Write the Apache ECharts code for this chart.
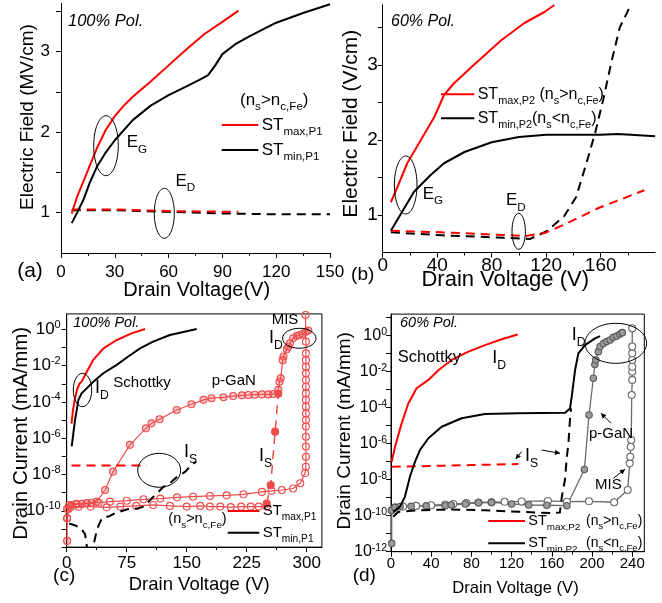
<!DOCTYPE html>
<html><head><meta charset="utf-8">
<script src="https://cdn.jsdelivr.net/npm/echarts@6/dist/echarts.min.js"></script>
<style>html,body{margin:0;padding:0;background:#fff}#c{width:662px;height:603px}</style>
</head><body><div id="c"></div>
<script>
// ---------- Panel (a): 100% Pol., electric field ----------
const aXTicks = [0, 30, 60, 90, 120, 150];
const aYTicks = [1, 2, 3];
const aMaxX = [6, 9, 12.5, 16, 20, 25, 30, 35, 40, 50, 60, 70, 80, 90, 99];
const aMaxY = [0.99, 1.2, 1.39, 1.58, 1.8, 2.03, 2.2, 2.33, 2.44, 2.63, 2.83, 3.03, 3.22, 3.37, 3.51];
const aMinX = [6, 9, 12.5, 16, 20, 25, 30, 40, 50, 60, 70, 78, 82, 86, 90, 97, 105, 120, 135, 150];
const aMinY = [0.87, 1.0, 1.16, 1.37, 1.57, 1.75, 1.9, 2.15, 2.33, 2.46, 2.57, 2.66, 2.71, 2.83, 2.97, 3.09, 3.19, 3.36, 3.48, 3.59];
const aMaxEdX = [6, 30, 60, 99];
const aMaxEdY = [1.04, 1.04, 1.02, 1.01];
const aMinEdX = [6, 30, 60, 90, 120, 150];
const aMinEdY = [1.03, 1.03, 1.01, 0.99, 0.98, 0.98];

// ---------- Panel (b): 60% Pol., electric field ----------
const bXTicks = [0, 40, 80, 120, 160];
const bYTicks = [1, 2, 3];
const bMaxX = [6, 11, 18, 28, 38, 45, 52, 65, 87, 104, 119, 126];
const bMaxY = [1.17, 1.38, 1.69, 2.0, 2.31, 2.6, 2.75, 2.97, 3.33, 3.56, 3.71, 3.8];
const bMinX = [6, 13.5, 23, 35, 45, 60, 80, 100, 120, 140, 160, 172, 182, 200];
const bMinY = [0.79, 1.02, 1.31, 1.53, 1.69, 1.84, 1.97, 2.04, 2.07, 2.07, 2.07, 2.08, 2.07, 2.05];
const bMaxEdX = [6, 43, 80, 105, 119, 133, 158, 192];
const bMaxEdY = [0.79, 0.77, 0.74, 0.72, 0.76, 0.87, 1.09, 1.33];
const bMinEdX = [6, 43, 84, 108, 120, 133, 142, 150, 156, 162, 168, 174, 181];
const bMinEdY = [0.77, 0.73, 0.70, 0.68, 0.78, 0.98, 1.24, 1.72, 2.1, 2.55, 3.05, 3.5, 3.76];

// ---------- Panel (c): 100% Pol., drain current (mA/mm) ----------
const cXTicks = [0, 75, 150, 225, 300];
const cYExpLabels = [-10, -8, -6, -4, -2, 0];
const cMaxX = [6, 8, 10.5, 13, 16, 19, 25, 33, 46, 62, 81, 98];
const cMax = [6.3e-6, 4.0e-5, 1.6e-4, 5.0e-4, 1.0e-3, 1.4e-3, 4.5e-3, 0.02, 0.089, 0.25, 0.6, 1.05];
const cMinX = [6.25, 10.4, 14.6, 18.75, 25, 33.3, 45.8, 62.5, 77, 91.7, 108, 129, 162.5];
const cMin = [3.5e-7, 1e-5, 1.3e-4, 3e-4, 5.6e-4, 1.3e-3, 3.8e-3, 0.011, 0.032, 0.089, 0.21, 0.49, 1.05];
const cMaxSX = [6, 100];
const cMaxS = [3.1e-8, 3.1e-8];
const cMinSX = [3, 10, 18, 23, 27, 29, 33, 38, 44, 54, 62, 77, 90, 96, 121, 129, 138, 148, 156, 162];
const cMinS = [2.0e-11, 1.6e-11, 1.1e-11, 5.0e-12, 3.2e-13, 1e-13, 1e-12, 1e-11, 3.9e-11, 5.2e-11, 7.9e-11, 1.26e-10, 1.4e-10, 1.7e-10, 2.1e-9, 3.3e-9, 7.6e-9, 1.4e-8, 3.4e-8, 5.1e-8];
const pganCX = [0.5, 0.5, 2, 6, 12.5, 19, 25, 31, 37.5, 48, 58, 79, 99, 106, 116, 137.5, 156, 171, 181, 196, 208, 219, 227, 235, 244, 252, 258, 264.5, 266, 267.5, 270, 271, 275, 277, 279, 283, 287.5, 291, 295, 299, 302];
const pganC = [2.2e-12, 3.9e-11, 1.2e-10, 2.1e-10, 2.3e-10, 2.4e-10, 2.6e-10, 2.8e-10, 3.2e-10, 1.4e-9, 1.45e-8, 4.3e-7, 3.5e-6, 6.6e-6, 1.1e-5, 3.6e-5, 7.4e-5, 1.3e-4, 1.6e-4, 1.8e-4, 2.1e-4, 2.3e-4, 2.4e-4, 2.5e-4, 2.6e-4, 2.6e-4, 2.75e-4, 4.6e-4, 1.3e-3, 2.0e-3, 0.02, 0.032, 0.079, 0.11, 0.17, 0.32, 0.43, 0.49, 0.55, 0.74, 0.85];
const misCX = [0.5, 3, 12, 25, 40, 54, 75, 96, 117, 138, 158, 179, 200, 221, 244, 256, 269, 283, 292, 298, 299, 299, 299, 299, 299, 299, 299, 299, 299, 299, 299, 299, 299, 299, 299, 299, 299, 298.5];
const misC = [3.9e-11, 2.0e-10, 2.4e-10, 2.6e-10, 2.8e-10, 3.2e-10, 3.6e-10, 4.3e-10, 4.7e-10, 5.5e-10, 6.0e-10, 6.6e-10, 7.1e-10, 8.1e-10, 1.1e-9, 1.26e-9, 1.4e-9, 1.7e-9, 3.3e-9, 1.2e-8, 2.7e-8, 9.5e-8, 3.5e-7, 1.2e-6, 4.4e-6, 1.0e-5, 2.3e-5, 5.5e-5, 1.3e-4, 3.0e-4, 6.9e-4, 1.6e-3, 3.8e-3, 8.7e-3, 0.02, 0.048, 0.21, 6.2];
const pganSX = [0.5, 5, 15, 30, 50, 67, 87, 108, 129, 150, 167, 179, 192, 205, 218, 230, 240, 250];
const pganS = [1.3e-10, 1.6e-10, 1.7e-10, 1.7e-10, 1.55e-10, 1.7e-10, 1.86e-10, 2.1e-10, 1.86e-10, 1.7e-10, 1.86e-10, 1.7e-10, 1.7e-10, 1.6e-10, 1.7e-10, 1.7e-10, 1.7e-10, 1.7e-10];
const pganSRX = [250, 255, 260.5, 264.5];
const pganSR = [2.5e-10, 2.6e-9, 2.3e-6, 2.8e-4];

// ---------- Panel (d): 60% Pol., drain current (mA/mm) ----------
const dXTicks = [0, 40, 80, 120, 160, 200, 240];
const dYExpLabels = [-12, -10, -8, -6, -4, -2, 0];
const dMaxX = [0.7, 4, 10.6, 17.2, 25.5, 37.2, 47.1, 60.4, 77, 93.5, 110, 126];
const dMax = [1e-7, 6.8e-7, 1.35e-5, 1.7e-4, 1.2e-3, 3.5e-3, 0.012, 0.045, 0.13, 0.3, 0.63, 1.17];
const dMaxSX = [0.7, 40, 80, 126.7];
const dMaxS = [5.2e-8, 5.8e-8, 6.5e-8, 7.4e-8];
const dMinX = [2.3, 9, 13.9, 18.9, 23.9, 28.9, 37.2, 50.4, 70.3, 93.5, 126.7, 173.2, 178.1, 179.8, 183.1, 186.4, 193, 203, 208];
const dMin = [1.66e-10, 3.2e-10, 1.15e-9, 1.5e-8, 1e-7, 4.5e-7, 2e-6, 8.7e-6, 2.6e-5, 4.5e-5, 4.9e-5, 5.2e-5, 9.1e-5, 4.1e-4, 0.012, 0.105, 0.3, 0.71, 0.95];
const dMinSX = [2.3, 7, 20, 40, 60, 93.5, 127, 160, 168, 170, 173, 175, 176.5, 178, 179.1];
const dMinS = [8.7e-11, 1.6e-10, 1.9e-10, 2.1e-10, 2.2e-10, 2.0e-10, 1.66e-10, 1.4e-10, 1.5e-10, 1.15e-9, 9.5e-9, 1.9e-7, 1.05e-6, 2.0e-5, 9.1e-5];
const dPganX = [0.7, 0.7, 4, 9, 20, 35, 54, 60, 74, 87, 100, 120, 137, 155, 175, 192.4, 197, 201.3, 202.8, 203.7, 206.3, 208, 211.3, 214.6, 218, 221.2, 224.6, 227.9, 230.2];
const dPgan = [2.9e-12, 2.0e-10, 2.9e-10, 3.2e-10, 3.3e-10, 3.5e-10, 3.6e-10, 3.9e-10, 4.5e-10, 5.2e-10, 5.5e-10, 4.5e-10, 3.9e-10, 3.8e-10, 3.6e-10, 3.7e-8, 3.9e-5, 4.3e-3, 0.025, 0.045, 0.13, 0.25, 0.37, 0.47, 0.58, 0.81, 0.95, 1.23, 1.48];
const dMisX = [0.7, 4, 12, 25, 40, 54, 62, 75, 87, 100, 113, 130, 156, 175, 197, 222, 235.5, 237.5, 238, 238.5, 239, 239.5, 240, 240, 240, 240, 240, 240, 240];
const dMis = [2.0e-10, 2.8e-10, 3.2e-10, 3.5e-10, 3.8e-10, 4.2e-10, 4.5e-10, 5.0e-10, 5.4e-10, 5.6e-10, 5.9e-10, 6.2e-10, 6.6e-10, 6.0e-10, 6.3e-10, 5.6e-10, 2.7e-9, 8.1e-8, 1.9e-7, 6.8e-7, 1.6e-6, 5.1e-4, 3.5e-3, 0.01, 0.019, 0.045, 0.105, 0.25, 2.6];

// ---------- build ----------
const FF = '"Liberation Sans", Arial, sans-serif';
const RED = '#ff0000', BLK = '#000000', PRED = '#ee4c4c', GRY = '#6a6a6a';
const pairs = (xs, ys) => xs.map((x, i) => [x, ys[i]]);
const lpairs = (xs, vs) => xs.map((x, i) => [x, Math.log10(vs[i])]);
const range = (a, b, s) => { const r = []; for (let v = a; v <= b + 1e-9; v += s) r.push(v); return r; };

function S(g, data, color, o) {
  o = o || {};
  return {
    type: 'line', xAxisIndex: g, yAxisIndex: g, data,
    symbol: o.symbol || 'none', symbolSize: o.size || 7, showSymbol: !!o.symbol,
    lineStyle: {color, width: o.w || 2, type: o.dash ? [9, 6] : 'solid', join: 'round'},
    itemStyle: {color: o.fill || color, borderColor: o.border || color, borderWidth: o.bw || 1.1},
    smooth: false,
    z: o.z || 3, silent: true, animation: false, clip: true
  };
}
function X(g, min, max, interval, ticks, fs, margin) {
  return {
    type: 'value', gridIndex: g, min, max, interval, position: 'bottom',
    axisLine: {show: true, onZero: false, lineStyle: {color: '#000', width: 1}},
    axisTick: {show: true, inside: false, length: 5, customValues: ticks, lineStyle: {color: '#000'}},
    minorTick: {show: true, splitNumber: 2, length: 3, lineStyle: {color: '#000'}},
    axisLabel: {customValues: ticks, fontSize: fs, color: '#000', margin, fontFamily: FF},
    splitLine: {show: false}, minorSplitLine: {show: false}
  };
}
function Y(g, min, max, labels, ticks, fs, margin, log, supFs) {
  const ax = {
    type: 'value', gridIndex: g, min, max, position: 'left',
    axisLine: {show: true, onZero: false, lineStyle: {color: '#000', width: 1}},
    axisTick: {show: true, inside: false, length: 5, customValues: ticks, lineStyle: {color: '#000'}},
    axisLabel: {customValues: labels, fontSize: fs, color: '#000', margin, fontFamily: FF},
    splitLine: {show: false}
  };
  if (log) {
    ax.interval = 1;
    ax.axisLabel.formatter = v => '{b|10}{s|' + Math.round(v) + '}';
    ax.axisLabel.rich = {
      b: {fontSize: fs, lineHeight: Math.round(fs * 1.18), fontFamily: FF, color: '#000'},
      s: {fontSize: supFs, lineHeight: supFs, verticalAlign: 'top', fontFamily: FF, color: '#000'}
    };
  }
  return ax;
}

const G = [];
function T(x, y, text, size, o) {
  o = o || {};
  const sub = Math.round(size * 0.68 * 10) / 10;
  G.push({
    type: 'text', x, y, rotation: o.rot || 0, z: 100, silent: true,
    style: {
      text, fill: '#000', fontSize: size, fontFamily: FF, fontStyle: o.italic ? 'italic' : 'normal',
      align: o.align || 'left', verticalAlign: 'middle', lineHeight: Math.round(size * 1.5),
      rich: {
        sb: {fontSize: sub, fontFamily: FF, fontStyle: 'normal', lineHeight: Math.round(sub * 1.05), verticalAlign: 'bottom', fill: '#000'}
      }
    }
  });
}
function L(x1, y1, x2, y2, color, w) {
  G.push({type: 'line', z: 100, silent: true, shape: {x1, y1, x2, y2}, style: {stroke: color, lineWidth: w || 2}});
}
function E(cx, cy, rx, ry) {
  G.push({type: 'ellipse', z: 100, silent: true, shape: {cx, cy, rx, ry}, style: {fill: 'none', stroke: '#000', lineWidth: 1}});
}
function A(x1, y1, x2, y2) {
  L(x1, y1, x2, y2, '#000', 1);
  const ang = Math.atan2(y2 - y1, x2 - x1), h = 5, w = 2.6;
  const bx = x2 - h * Math.cos(ang), by = y2 - h * Math.sin(ang);
  G.push({type: 'polygon', z: 100, silent: true, shape: {points: [[x2, y2], [bx - w * Math.sin(ang), by + w * Math.cos(ang)], [bx + w * Math.sin(ang), by - w * Math.cos(ang)]]}, style: {fill: '#000'}});
}

// panel (a) annotations
T(68, 21.7, '100% Pol.', 16.5, {italic: true});
T(240, 100, '(n{sb|s}>n{sb|c,Fe})', 17);
L(221.7, 125, 258.3, 125, RED); T(261.7, 125, 'ST{sb|max,P1}', 17);
L(221.7, 150, 258.3, 150, BLK); T(261.7, 150, 'ST{sb|min,P1}', 17);
T(126.7, 142.7, 'E{sb|G}', 17); T(175.5, 181, 'E{sb|D}', 17);
E(106, 145.7, 12.3, 30); E(164.3, 213.3, 10, 25);
T(30, 271.7, '(a)', 21, {align: 'center'});
T(196.7, 290, 'Drain Voltage(V)', 20, {align: 'center'});
T(28, 117, 'Electric Field (MV/cm)', 19, {align: 'center', rot: Math.PI / 2});
// panel (b)
T(391, 21.7, '60% Pol.', 16, {italic: true});
L(441, 94.3, 474.3, 94.3, RED); T(477.7, 94.3, 'ST{sb|max,P2} (n{sb|s}>n{sb|c,Fe})', 16);
L(441, 118.3, 474.3, 118.3, BLK); T(477.7, 118.3, 'ST{sb|min,P2}(n{sb|s}<n{sb|c,Fe})', 16);
T(422.7, 194, 'E{sb|G}', 17); T(506, 200.8, 'E{sb|D}', 17);
E(405.7, 185, 11.3, 29); E(518.7, 231.3, 6.7, 18);
T(362.7, 275, '(b)', 19, {align: 'center'});
T(505.2, 280, 'Drain Voltage (V)', 22, {align: 'center'});
T(351, 123.7, 'Electric Field (V/cm)', 21, {align: 'center', rot: Math.PI / 2});
// panel (c)
T(73.3, 323.3, '100% Pol.', 14.5, {italic: true});
T(113.3, 382.5, 'Schottky', 15);
T(95, 388, 'I{sb|D}', 18);
E(82.5, 390, 9.2, 16.7);
T(211.7, 380.5, 'p-GaN', 15);
T(271.7, 320, 'MIS', 15);
T(269, 338.3, 'I{sb|D}', 18);
E(299.3, 338.3, 16.7, 10);
T(184, 452.5, 'I{sb|S}', 18);
E(159.2, 470.3, 21.5, 17);
T(259, 456, 'I{sb|S}', 18);
L(227.7, 511, 259.3, 511, RED); T(262.7, 511, 'ST{sb|max,P1}', 15);
L(227.7, 532.7, 259.3, 532.7, BLK); T(262.7, 532.7, 'ST{sb|min,P1}', 15);
T(168.3, 519, '(n{sb|s}>n{sb|c,Fe})', 14.5);
T(64.2, 576, '(c)', 19, {align: 'center'});
T(199.2, 585, 'Drain Voltage (V)', 18.5, {align: 'center'});
T(21.7, 433.3, 'Drain Current (mA/mm)', 20.5, {align: 'center', rot: Math.PI / 2});
// panel (d)
T(400, 323.3, '60% Pol.', 14.5, {italic: true});
T(397.7, 357, 'Schottky', 16.5);
T(492.3, 358, 'I{sb|D}', 18);
T(571.7, 335, 'I{sb|D}', 18);
E(615.8, 343.3, 30.8, 20);
T(589, 434, 'p-GaN', 15); A(611, 423.3, 601, 413.3);
T(525, 456, 'I{sb|S}', 18); A(521.7, 451.7, 515.7, 459); A(541.7, 450, 560, 453.3);
T(595, 484.7, 'MIS', 15); A(613.3, 478.3, 625, 469.3);
L(488.3, 521, 525, 521, RED); T(528.3, 521, 'ST{sb|max,P2}', 14.5); T(586, 521, '(n{sb|s}>n{sb|c,Fe})', 14);
L(488.3, 543.3, 525, 543.3, BLK); T(528.3, 543.3, 'ST{sb|min,P2}', 14.5); T(586, 543.3, '(n{sb|s}<n{sb|c,Fe})', 14);
T(364.3, 576, '(d)', 19, {align: 'center'});
T(515.5, 588.3, 'Drain Voltage (V)', 16.6, {align: 'center'});
T(345, 430.8, 'Drain Current (mA/mm)', 19, {align: 'center', rot: Math.PI / 2});

const border = {show: true, borderColor: '#000', borderWidth: 1, backgroundColor: 'transparent'};
const option = {
  animation: false,
  backgroundColor: '#ffffff',
  textStyle: {fontFamily: FF},
  grid: [
    {left: 61, top: 3.4, width: 269, height: 249.5},
    {left: 382.7, top: 5, width: 272.5, height: 247.5},
    Object.assign({left: 66.7, top: 313.9, width: 255.2, height: 233.2}, border),
    Object.assign({left: 391, top: 314.1, width: 253.3, height: 237.6}, border)
  ],
  xAxis: [
    X(0, 0, 150, 30, aXTicks, 17, 11),
    X(1, 0, 200, 40, bXTicks, 19, 4),
    X(2, 0, 319, 75, cXTicks, 17, 8),
    X(3, 0, 252, 40, dXTicks, 15, 5)
  ],
  yAxis: [
    Y(0, 0.5, 3.6, aYTicks, [1, 1.5, 2, 2.5, 3, 3.5], 17, 11),
    Y(1, 0.5, 3.8, bYTicks, [1, 1.5, 2, 2.5, 3, 3.5], 19, 5),
    Y(2, -12, 0.85, cYExpLabels, range(-12, 0, 1), 17, 6, true, 11),
    Y(3, -12, 1.2, dYExpLabels, range(-12, 1, 1), 16, 4, true, 10.5),
    {type: 'value', gridIndex: 1, min: 0.5, max: 3.8, position: 'right',
     axisLine: {show: true, lineStyle: {color: '#000'}}, axisTick: {show: false}, axisLabel: {show: false}, splitLine: {show: false}}
  ],
  series: [
    // (a)
    S(0, pairs(aMaxEdX, aMaxEdY), RED, {dash: true}),
    S(0, pairs(aMinEdX, aMinEdY), BLK, {dash: true, z: 2}),
    S(0, pairs(aMaxX, aMaxY), RED),
    S(0, pairs(aMinX, aMinY), BLK),
    // (b)
    S(1, pairs(bMaxEdX, bMaxEdY), RED, {dash: true}),
    S(1, pairs(bMinEdX, bMinEdY), BLK, {dash: true, z: 2}),
    S(1, pairs(bMaxX, bMaxY), RED),
    S(1, pairs(bMinX, bMinY), BLK),
    // (c)
    S(2, lpairs(pganSX, pganS), PRED, {w: 1.2, symbol: 'circle', fill: 'rgba(255,255,255,0)', z: 2}),
    S(2, lpairs(misCX, misC), PRED, {w: 1.2, symbol: 'circle', fill: 'rgba(255,255,255,0)', z: 2}),
    S(2, lpairs(pganCX, pganC), PRED, {w: 1.2, symbol: 'circle', fill: 'rgba(238,76,76,0.3)', z: 2}),
    S(2, lpairs(pganSRX, pganSR), PRED, {w: 1.5, dash: true, symbol: 'circle', fill: PRED, z: 2}),
    S(2, lpairs(cMaxSX, cMaxS), RED, {dash: true}),
    S(2, lpairs(cMinSX, cMinS), BLK, {dash: true}),
    S(2, lpairs(cMaxX, cMax), RED),
    S(2, lpairs(cMinX, cMin), BLK),
    // (d)
    S(3, lpairs(dMisX, dMis), GRY, {w: 1.3, symbol: 'circle', fill: '#ffffff', z: 2}),
    S(3, lpairs(dPganX, dPgan), GRY, {w: 1.3, symbol: 'circle', size: 6.5, fill: '#9a9a9a', border: '#5a5a5a', z: 2}),
    S(3, lpairs(dMaxSX, dMaxS), RED, {dash: true}),
    S(3, lpairs(dMinSX, dMinS), BLK, {dash: true}),
    S(3, lpairs(dMaxX, dMax), RED),
    S(3, lpairs(dMinX, dMin), BLK)
  ],
  graphic: {elements: G}
};
const chart = echarts.init(document.getElementById('c'), null, {renderer: 'canvas'});
chart.setOption(option);
</script></body></html>
